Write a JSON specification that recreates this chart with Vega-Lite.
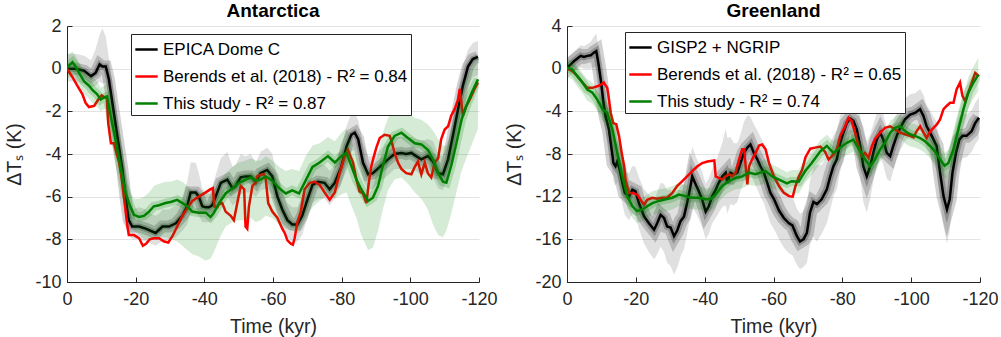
{
  "$schema": "https://vega.github.io/schema/vega-lite/v6.json",
  "padding": {"left": 4, "top": 2, "right": 0, "bottom": 2},
  "config": {
    "font": "Liberation Sans",
    "view": {"stroke": null},
    "axis": {"domainColor": "#262626", "tickColor": "#262626", "labelColor": "#262626", "titleColor": "#262626", "labelFontSize": 18, "titleFontSize": 19.5, "titleFontWeight": "normal", "gridColor": "#e3e3e3", "tickSize": -5, "domainWidth": 1},
    "title": {"fontSize": 19, "fontWeight": "bold", "color": "#000000", "offset": -4}
  },
  "datasets": {
    "aB": [
      {"t":0,"v":0,"lo":-0.6,"hi":0.7},{"t":-2.5,"v":0,"lo":-0.6,"hi":0.7},{"t":-5,"v":-0.1,"lo":-0.7,"hi":0.6},{"t":-7,"v":-0.35,"lo":-0.9,"hi":0.4},{"t":-8.3,"v":-0.2,"lo":-0.8,"hi":0.9},{"t":-9.5,"v":0.2,"lo":-0.6,"hi":1.6},{"t":-10.3,"v":0.1,"lo":-0.7,"hi":1.9},{"t":-11.3,"v":0.1,"lo":-0.7,"hi":1.5},{"t":-12.2,"v":-0.5,"lo":-1.3,"hi":0.5},{"t":-13.2,"v":-1.6,"lo":-2.5,"hi":-0.6},{"t":-14.7,"v":-3.2,"lo":-4.2,"hi":-2.2},{"t":-16.1,"v":-4.7,"lo":-5.7,"hi":-3.7},{"t":-17.1,"v":-6.1,"lo":-7.0,"hi":-5.2},{"t":-18,"v":-7.1,"lo":-7.8,"hi":-6.3},{"t":-19,"v":-7.4,"lo":-8.0,"hi":-6.6},{"t":-21,"v":-7.4,"lo":-8.0,"hi":-6.5},{"t":-22.9,"v":-7.5,"lo":-8.1,"hi":-6.6},{"t":-24.4,"v":-7.6,"lo":-8.2,"hi":-6.8},{"t":-25.8,"v":-7.7,"lo":-8.3,"hi":-6.9},{"t":-26.8,"v":-7.55,"lo":-8.2,"hi":-6.8},{"t":-27.8,"v":-7.4,"lo":-8.1,"hi":-6.6},{"t":-29.7,"v":-7.4,"lo":-8.0,"hi":-6.6},{"t":-31.7,"v":-7.25,"lo":-7.9,"hi":-6.4},{"t":-33.6,"v":-6.9,"lo":-7.6,"hi":-6.0},{"t":-35,"v":-6.45,"lo":-7.3,"hi":-5.3},{"t":-36,"v":-5.8,"lo":-6.8,"hi":-4.4},{"t":-37.5,"v":-5.8,"lo":-6.8,"hi":-4.4},{"t":-38.4,"v":-6.0,"lo":-6.9,"hi":-4.9},{"t":-39.4,"v":-6.45,"lo":-7.2,"hi":-5.6},{"t":-40.4,"v":-6.5,"lo":-7.2,"hi":-5.8},{"t":-41.4,"v":-6.5,"lo":-7.2,"hi":-5.7},{"t":-42.3,"v":-6.4,"lo":-7.1,"hi":-5.5},{"t":-43.3,"v":-6.0,"lo":-6.8,"hi":-5.0},{"t":-44.8,"v":-5.35,"lo":-6.2,"hi":-4.2},{"t":-46.7,"v":-5.2,"lo":-6.0,"hi":-3.9},{"t":-48.2,"v":-5.6,"lo":-6.4,"hi":-4.6},{"t":-49.1,"v":-5.5,"lo":-6.3,"hi":-4.5},{"t":-50.6,"v":-5.1,"lo":-5.9,"hi":-4.0},{"t":-52,"v":-5.05,"lo":-5.8,"hi":-4.1},{"t":-53.5,"v":-5.05,"lo":-5.8,"hi":-4.0},{"t":-55,"v":-5.3,"lo":-6.0,"hi":-4.4},{"t":-56.4,"v":-4.9,"lo":-5.7,"hi":-3.9},{"t":-58.3,"v":-4.75,"lo":-5.6,"hi":-3.7},{"t":-59.8,"v":-5.05,"lo":-5.9,"hi":-4.0},{"t":-61.3,"v":-6.0,"lo":-6.8,"hi":-5.1},{"t":-62.7,"v":-6.6,"lo":-7.4,"hi":-5.8},{"t":-64.2,"v":-7.1,"lo":-7.9,"hi":-6.3},{"t":-65.6,"v":-7.3,"lo":-8.1,"hi":-6.5},{"t":-67.1,"v":-7.3,"lo":-8.1,"hi":-6.5},{"t":-68.5,"v":-6.9,"lo":-7.8,"hi":-6.0},{"t":-70,"v":-6.15,"lo":-7.0,"hi":-5.3},{"t":-71.5,"v":-5.45,"lo":-6.3,"hi":-4.6},{"t":-73.1,"v":-5.3,"lo":-6.1,"hi":-4.5},{"t":-75,"v":-5.35,"lo":-6.1,"hi":-4.5},{"t":-76.5,"v":-5.65,"lo":-6.4,"hi":-4.8},{"t":-78,"v":-5.35,"lo":-6.1,"hi":-4.5},{"t":-79.9,"v":-4.6,"lo":-5.4,"hi":-3.7},{"t":-81.4,"v":-3.65,"lo":-4.5,"hi":-2.7},{"t":-82.8,"v":-3.1,"lo":-3.9,"hi":-2.1},{"t":-83.8,"v":-3.0,"lo":-3.8,"hi":-2.1},{"t":-84.8,"v":-3.3,"lo":-4.1,"hi":-2.4},{"t":-86.2,"v":-4.4,"lo":-5.2,"hi":-3.5},{"t":-87.7,"v":-4.95,"lo":-5.7,"hi":-4.1},{"t":-89.1,"v":-4.9,"lo":-5.6,"hi":-4.1},{"t":-91.1,"v":-4.6,"lo":-5.3,"hi":-3.8},{"t":-93.5,"v":-4.25,"lo":-5.0,"hi":-3.5},{"t":-95.4,"v":-4.0,"lo":-4.7,"hi":-3.2},{"t":-97.4,"v":-3.95,"lo":-4.7,"hi":-3.2},{"t":-98.8,"v":-4.0,"lo":-4.7,"hi":-3.2},{"t":-100.3,"v":-3.95,"lo":-4.7,"hi":-3.2},{"t":-101.7,"v":-4.1,"lo":-4.8,"hi":-3.3},{"t":-103.2,"v":-4.25,"lo":-5.0,"hi":-3.4},{"t":-105.1,"v":-4.1,"lo":-4.8,"hi":-3.3},{"t":-106.6,"v":-4.35,"lo":-5.1,"hi":-3.4},{"t":-108.1,"v":-4.9,"lo":-5.6,"hi":-4.0},{"t":-109.5,"v":-4.95,"lo":-5.7,"hi":-4.1},{"t":-111,"v":-4.25,"lo":-5.0,"hi":-3.4},{"t":-112.4,"v":-3.15,"lo":-4.0,"hi":-2.3},{"t":-113.9,"v":-1.9,"lo":-2.8,"hi":-1.0},{"t":-115.3,"v":-0.8,"lo":-1.7,"hi":0.1},{"t":-116.8,"v":0.1,"lo":-0.8,"hi":0.9},{"t":-118.2,"v":0.45,"lo":-0.4,"hi":1.2},{"t":-119.7,"v":0.55,"lo":-0.3,"hi":1.3}
    ],
    "aR": [
      {"t":0,"v":0},{"t":-1.6,"v":-0.4},{"t":-3,"v":-0.8},{"t":-4.5,"v":-1.2},{"t":-5.4,"v":-1.6},{"t":-6.4,"v":-1.8},{"t":-7.9,"v":-1.75},{"t":-9.1,"v":-1.45},{"t":-10.1,"v":-1.25},{"t":-11.1,"v":-1.35},{"t":-11.6,"v":-1.4},{"t":-12,"v":-2.55},{"t":-12.8,"v":-3.5},{"t":-13.7,"v":-3.5},{"t":-14.4,"v":-3.95},{"t":-15.2,"v":-4.4},{"t":-16,"v":-5.2},{"t":-16.7,"v":-6.15},{"t":-17.6,"v":-7.4},{"t":-18,"v":-7.8},{"t":-19.5,"v":-7.8},{"t":-21,"v":-7.95},{"t":-22.1,"v":-8.3},{"t":-23.1,"v":-8.2},{"t":-24.1,"v":-8.0},{"t":-25.3,"v":-7.95},{"t":-26.8,"v":-7.95},{"t":-28.3,"v":-8.1},{"t":-29.5,"v":-8.15},{"t":-30.7,"v":-7.85},{"t":-32.1,"v":-7.4},{"t":-33.6,"v":-6.9},{"t":-35,"v":-6.55},{"t":-36.5,"v":-6.2},{"t":-38.4,"v":-6.0},{"t":-40.4,"v":-5.8},{"t":-41.8,"v":-5.65},{"t":-42.5,"v":-5.6},{"t":-42.9,"v":-6.45},{"t":-43.8,"v":-6.5},{"t":-44.3,"v":-6.35},{"t":-45.2,"v":-6.3},{"t":-46.2,"v":-6.7},{"t":-47.7,"v":-6.9},{"t":-48.6,"v":-7.1},{"t":-49.6,"v":-6.3},{"t":-50.6,"v":-5.5},{"t":-51.6,"v":-5.65},{"t":-52,"v":-7.4},{"t":-52.5,"v":-7.5},{"t":-53,"v":-6.45},{"t":-54,"v":-5.5},{"t":-54.9,"v":-5.35},{"t":-55.4,"v":-5.05},{"t":-56.9,"v":-4.95},{"t":-57.4,"v":-4.95},{"t":-57.9,"v":-5.2},{"t":-58.6,"v":-6.3},{"t":-59.8,"v":-6.7},{"t":-61.3,"v":-7.0},{"t":-62.7,"v":-7.5},{"t":-63.4,"v":-7.7},{"t":-64.2,"v":-8.05},{"t":-65.2,"v":-8.2},{"t":-65.8,"v":-8.25},{"t":-66.3,"v":-7.95},{"t":-67.1,"v":-7.2},{"t":-68.1,"v":-6.7},{"t":-69.2,"v":-5.65},{"t":-70.7,"v":-5.35},{"t":-72.1,"v":-5.3},{"t":-73.6,"v":-5.45},{"t":-75,"v":-5.8},{"t":-76.5,"v":-6.15},{"t":-78,"v":-5.8},{"t":-79.4,"v":-4.9},{"t":-80.9,"v":-4.1},{"t":-81.8,"v":-3.8},{"t":-83.3,"v":-4.4},{"t":-84.3,"v":-5.2},{"t":-85.2,"v":-5.75},{"t":-86.2,"v":-5.85},{"t":-87.2,"v":-6.3},{"t":-87.9,"v":-5.35},{"t":-88.6,"v":-4.6},{"t":-89.4,"v":-4.1},{"t":-90.1,"v":-3.7},{"t":-91.1,"v":-3.25},{"t":-92.5,"v":-3.1},{"t":-94,"v":-3.15},{"t":-94.7,"v":-3.5},{"t":-95.4,"v":-3.95},{"t":-96.4,"v":-4.4},{"t":-97.4,"v":-4.7},{"t":-98.8,"v":-4.9},{"t":-100.3,"v":-4.95},{"t":-101.3,"v":-4.6},{"t":-102.2,"v":-4.35},{"t":-103.2,"v":-4.95},{"t":-104.2,"v":-4.4},{"t":-105.1,"v":-4.9},{"t":-106.1,"v":-5.1},{"t":-107.1,"v":-4.4},{"t":-108.1,"v":-4.2},{"t":-109,"v":-3.3},{"t":-110,"v":-2.85},{"t":-111,"v":-2.7},{"t":-111.9,"v":-2.2},{"t":-112.9,"v":-1.9},{"t":-113.9,"v":-1.45},{"t":-114.4,"v":-0.95},{"t":-115.3,"v":-2.2},{"t":-116.3,"v":-1.75},{"t":-117.3,"v":-1.45},{"t":-118.7,"v":-0.95},{"t":-119.7,"v":-0.65}
    ],
    "aG": [
      {"t":0,"v":0.05,"lo":-0.5,"hi":0.6},{"t":-1.6,"v":0.3,"lo":-0.3,"hi":0.8},{"t":-2.5,"v":0.1,"lo":-0.5,"hi":0.6},{"t":-3.5,"v":-0.2,"lo":-0.8,"hi":0.3},{"t":-5,"v":-0.6,"lo":-1.2,"hi":-0.1},{"t":-6.4,"v":-0.8,"lo":-1.4,"hi":-0.3},{"t":-7.4,"v":-1.0,"lo":-1.6,"hi":-0.4},{"t":-8.8,"v":-1.2,"lo":-1.8,"hi":-0.6},{"t":-9.8,"v":-1.45,"lo":-2.0,"hi":-0.9},{"t":-10.8,"v":-1.35,"lo":-1.9,"hi":-0.8},{"t":-11.7,"v":-1.3,"lo":-1.9,"hi":-0.7},{"t":-12.7,"v":-2.2,"lo":-2.8,"hi":-1.6},{"t":-13.7,"v":-3.0,"lo":-3.6,"hi":-2.4},{"t":-14.7,"v":-3.8,"lo":-4.4,"hi":-3.2},{"t":-15.6,"v":-4.6,"lo":-5.2,"hi":-4.0},{"t":-17.1,"v":-5.85,"lo":-6.5,"hi":-5.2},{"t":-18.3,"v":-6.4,"lo":-7.1,"hi":-5.7},{"t":-19.5,"v":-6.85,"lo":-7.6,"hi":-6.1},{"t":-21,"v":-6.95,"lo":-7.8,"hi":-6.1},{"t":-22.4,"v":-6.9,"lo":-8.0,"hi":-6.0},{"t":-23.9,"v":-6.7,"lo":-8.0,"hi":-5.8},{"t":-25.3,"v":-6.45,"lo":-7.9,"hi":-5.5},{"t":-26.8,"v":-6.4,"lo":-7.9,"hi":-5.4},{"t":-28.7,"v":-6.3,"lo":-7.9,"hi":-5.3},{"t":-30.2,"v":-6.25,"lo":-8.0,"hi":-5.3},{"t":-32.1,"v":-6.15,"lo":-8.1,"hi":-5.2},{"t":-33.6,"v":-6.3,"lo":-8.3,"hi":-5.3},{"t":-35,"v":-6.45,"lo":-8.5,"hi":-5.5},{"t":-36.5,"v":-6.7,"lo":-8.7,"hi":-5.7},{"t":-38.4,"v":-6.75,"lo":-8.8,"hi":-5.8},{"t":-40.4,"v":-6.75,"lo":-9.0,"hi":-5.8},{"t":-41.8,"v":-6.95,"lo":-8.9,"hi":-5.9},{"t":-42.8,"v":-6.75,"lo":-8.6,"hi":-5.7},{"t":-44.3,"v":-6.3,"lo":-8.0,"hi":-5.3},{"t":-46.2,"v":-5.85,"lo":-7.4,"hi":-4.9},{"t":-48.2,"v":-5.6,"lo":-7.2,"hi":-4.6},{"t":-50.1,"v":-5.35,"lo":-7.1,"hi":-4.4},{"t":-52.1,"v":-5.2,"lo":-7.1,"hi":-4.3},{"t":-53.5,"v":-5.1,"lo":-7.0,"hi":-4.2},{"t":-55,"v":-5.25,"lo":-7.2,"hi":-4.3},{"t":-56.4,"v":-5.2,"lo":-7.1,"hi":-4.3},{"t":-57.9,"v":-5.05,"lo":-6.9,"hi":-4.1},{"t":-59.8,"v":-5.25,"lo":-7.0,"hi":-4.3},{"t":-61.8,"v":-5.6,"lo":-7.3,"hi":-4.6},{"t":-63.7,"v":-5.85,"lo":-7.5,"hi":-4.8},{"t":-65.6,"v":-5.7,"lo":-7.6,"hi":-4.7},{"t":-67.6,"v":-5.85,"lo":-7.7,"hi":-4.8},{"t":-69.5,"v":-5.25,"lo":-7.0,"hi":-4.1},{"t":-71.5,"v":-4.6,"lo":-6.5,"hi":-3.6},{"t":-73.6,"v":-4.4,"lo":-6.2,"hi":-3.5},{"t":-76,"v":-4.1,"lo":-5.9,"hi":-3.2},{"t":-78,"v":-4.4,"lo":-6.1,"hi":-3.4},{"t":-79.9,"v":-4.1,"lo":-5.9,"hi":-3.0},{"t":-81.4,"v":-3.95,"lo":-5.8,"hi":-2.8},{"t":-82.8,"v":-4.55,"lo":-6.4,"hi":-3.4},{"t":-84.3,"v":-5.2,"lo":-7.0,"hi":-4.0},{"t":-85.7,"v":-5.65,"lo":-7.8,"hi":-4.4},{"t":-87.7,"v":-6.2,"lo":-8.5,"hi":-4.8},{"t":-89.1,"v":-6.05,"lo":-8.4,"hi":-4.6},{"t":-90.6,"v":-5.5,"lo":-7.6,"hi":-4.0},{"t":-92,"v":-4.55,"lo":-6.6,"hi":-3.0},{"t":-93.5,"v":-3.65,"lo":-5.7,"hi":-2.3},{"t":-95.4,"v":-3.15,"lo":-5.2,"hi":-2.0},{"t":-97.4,"v":-3.0,"lo":-5.1,"hi":-1.9},{"t":-99.3,"v":-3.25,"lo":-5.4,"hi":-2.1},{"t":-101.3,"v":-3.5,"lo":-5.8,"hi":-2.3},{"t":-103.2,"v":-3.55,"lo":-6.1,"hi":-2.4},{"t":-105.1,"v":-3.8,"lo":-6.6,"hi":-2.6},{"t":-106.6,"v":-4.25,"lo":-7.3,"hi":-2.9},{"t":-108.1,"v":-4.9,"lo":-7.8,"hi":-3.3},{"t":-109.5,"v":-5.3,"lo":-7.9,"hi":-3.6},{"t":-110.5,"v":-5.35,"lo":-7.6,"hi":-3.6},{"t":-111.9,"v":-4.55,"lo":-6.8,"hi":-2.9},{"t":-113.4,"v":-3.5,"lo":-5.8,"hi":-1.9},{"t":-114.9,"v":-2.4,"lo":-4.8,"hi":-0.9},{"t":-116.3,"v":-1.75,"lo":-4.2,"hi":-0.4},{"t":-117.8,"v":-1.15,"lo":-3.6,"hi":0.1},{"t":-119.7,"v":-0.5,"lo":-2.8,"hi":0.7}
    ],
    "gB": [
      {"t":0,"v":0.1,"lo":-0.9,"hi":1.0},{"t":-1.1,"v":0.4,"lo":-0.6,"hi":1.3},{"t":-2,"v":0.7,"lo":-0.3,"hi":1.6},{"t":-3,"v":0.95,"lo":-0.1,"hi":1.9},{"t":-4,"v":1.2,"lo":0.1,"hi":2.2},{"t":-4.9,"v":1.1,"lo":0.0,"hi":2.1},{"t":-5.9,"v":1.2,"lo":0.0,"hi":2.3},{"t":-6.9,"v":1.25,"lo":0.0,"hi":2.5},{"t":-7.8,"v":1.5,"lo":0.1,"hi":3.0},{"t":-8.5,"v":1.65,"lo":0.2,"hi":3.3},{"t":-9.1,"v":0.55,"lo":-1.0,"hi":2.0},{"t":-9.8,"v":-1.0,"lo":-2.6,"hi":0.5},{"t":-10.6,"v":-3.2,"lo":-4.8,"hi":-1.6},{"t":-11.2,"v":-4.45,"lo":-6.0,"hi":-2.9},{"t":-12.2,"v":-5.7,"lo":-7.3,"hi":-4.1},{"t":-13,"v":-7.6,"lo":-9.3,"hi":-5.9},{"t":-13.5,"v":-8.85,"lo":-10.6,"hi":-7.1},{"t":-14.1,"v":-9.15,"lo":-11.0,"hi":-7.3},{"t":-14.6,"v":-8.7,"lo":-10.6,"hi":-6.8},{"t":-15.3,"v":-9.45,"lo":-11.4,"hi":-7.5},{"t":-16.1,"v":-10.7,"lo":-12.7,"hi":-8.7},{"t":-16.8,"v":-11.65,"lo":-13.7,"hi":-9.6},{"t":-18,"v":-12.0,"lo":-14.2,"hi":-9.8},{"t":-19,"v":-11.35,"lo":-13.6,"hi":-9.1},{"t":-19.9,"v":-11.5,"lo":-13.8,"hi":-9.2},{"t":-20.9,"v":-12.6,"lo":-15.0,"hi":-10.2},{"t":-22.4,"v":-13.85,"lo":-16.4,"hi":-11.3},{"t":-23.8,"v":-14.5,"lo":-17.2,"hi":-11.8},{"t":-25.3,"v":-15.1,"lo":-17.9,"hi":-12.3},{"t":-26.2,"v":-14.5,"lo":-17.4,"hi":-11.6},{"t":-27.2,"v":-13.7,"lo":-16.7,"hi":-10.7},{"t":-28.2,"v":-14.0,"lo":-17.2,"hi":-10.8},{"t":-29.1,"v":-14.8,"lo":-18.2,"hi":-11.4},{"t":-30.1,"v":-14.9,"lo":-18.5,"hi":-11.3},{"t":-31.1,"v":-15.7,"lo":-19.3,"hi":-12.1},{"t":-32,"v":-15.2,"lo":-18.7,"hi":-11.7},{"t":-33,"v":-14.3,"lo":-17.6,"hi":-11.0},{"t":-34,"v":-13.85,"lo":-16.9,"hi":-10.8},{"t":-34.9,"v":-12.6,"lo":-15.5,"hi":-9.7},{"t":-35.9,"v":-11.0,"lo":-13.8,"hi":-8.2},{"t":-36.4,"v":-10.1,"lo":-12.9,"hi":-7.3},{"t":-37.4,"v":-10.85,"lo":-13.5,"hi":-8.2},{"t":-38.3,"v":-11.5,"lo":-14.1,"hi":-8.9},{"t":-39.3,"v":-12.3,"lo":-14.9,"hi":-9.7},{"t":-40.3,"v":-13.4,"lo":-16.0,"hi":-10.8},{"t":-41.2,"v":-12.9,"lo":-15.5,"hi":-10.3},{"t":-42.2,"v":-11.95,"lo":-14.5,"hi":-9.4},{"t":-43.2,"v":-11.35,"lo":-14.0,"hi":-8.7},{"t":-44.1,"v":-10.7,"lo":-13.5,"hi":-7.9},{"t":-45.1,"v":-10.1,"lo":-13.0,"hi":-7.0},{"t":-46.1,"v":-9.75,"lo":-12.8,"hi":-5.6},{"t":-46.6,"v":-10.7,"lo":-13.6,"hi":-6.5},{"t":-47.5,"v":-9.75,"lo":-12.7,"hi":-6.4},{"t":-48.5,"v":-9.9,"lo":-12.8,"hi":-7.0},{"t":-49.5,"v":-9.75,"lo":-12.5,"hi":-7.0},{"t":-50.4,"v":-8.85,"lo":-11.5,"hi":-6.2},{"t":-51.4,"v":-7.9,"lo":-10.6,"hi":-5.0},{"t":-52.4,"v":-7.4,"lo":-10.0,"hi":-4.4},{"t":-53.3,"v":-7.1,"lo":-9.8,"hi":-4.5},{"t":-54.3,"v":-7.9,"lo":-10.6,"hi":-5.2},{"t":-55.3,"v":-8.5,"lo":-11.3,"hi":-5.8},{"t":-56.2,"v":-9.15,"lo":-12.0,"hi":-6.4},{"t":-57.2,"v":-9.75,"lo":-12.6,"hi":-7.0},{"t":-58.2,"v":-10.7,"lo":-13.6,"hi":-7.9},{"t":-59.1,"v":-11.65,"lo":-14.5,"hi":-8.9},{"t":-60.1,"v":-12.2,"lo":-15.0,"hi":-9.5},{"t":-61.6,"v":-13.3,"lo":-16.0,"hi":-10.7},{"t":-63,"v":-14.0,"lo":-16.8,"hi":-11.3},{"t":-64.5,"v":-14.5,"lo":-17.3,"hi":-11.8},{"t":-65.5,"v":-14.7,"lo":-17.5,"hi":-12.0},{"t":-66.8,"v":-15.7,"lo":-18.4,"hi":-13.1},{"t":-67.7,"v":-16.2,"lo":-18.8,"hi":-13.6},{"t":-68.7,"v":-16.0,"lo":-18.6,"hi":-13.4},{"t":-69.7,"v":-15.4,"lo":-18.2,"hi":-12.7},{"t":-70.6,"v":-13.5,"lo":-16.5,"hi":-10.5},{"t":-71.6,"v":-12.5,"lo":-15.8,"hi":-9.3},{"t":-72.6,"v":-12.7,"lo":-16.2,"hi":-9.0},{"t":-74,"v":-12.25,"lo":-15.5,"hi":-9.0},{"t":-75.5,"v":-11.3,"lo":-14.5,"hi":-8.2},{"t":-76.5,"v":-10.1,"lo":-13.2,"hi":-7.0},{"t":-77.4,"v":-9.15,"lo":-12.0,"hi":-6.3},{"t":-78.4,"v":-8.5,"lo":-11.3,"hi":-5.7},{"t":-79.4,"v":-6.95,"lo":-9.6,"hi":-4.4},{"t":-80.3,"v":-6.0,"lo":-8.5,"hi":-3.6},{"t":-81.3,"v":-5.1,"lo":-7.5,"hi":-2.8},{"t":-82.3,"v":-4.7,"lo":-7.0,"hi":-2.5},{"t":-83.2,"v":-4.9,"lo":-7.2,"hi":-2.7},{"t":-84.2,"v":-5.7,"lo":-8.2,"hi":-3.3},{"t":-85.2,"v":-7.25,"lo":-10.2,"hi":-4.4},{"t":-86.1,"v":-9.15,"lo":-12.5,"hi":-5.9},{"t":-87.1,"v":-10.1,"lo":-13.5,"hi":-6.8},{"t":-88.1,"v":-9.15,"lo":-12.2,"hi":-6.2},{"t":-89,"v":-7.9,"lo":-10.6,"hi":-5.2},{"t":-90,"v":-6.65,"lo":-9.0,"hi":-4.2},{"t":-91,"v":-6.0,"lo":-8.3,"hi":-3.7},{"t":-91.9,"v":-6.65,"lo":-9.0,"hi":-4.3},{"t":-92.9,"v":-7.9,"lo":-10.3,"hi":-5.5},{"t":-93.9,"v":-8.2,"lo":-10.6,"hi":-5.9},{"t":-94.8,"v":-7.25,"lo":-9.6,"hi":-5.0},{"t":-95.8,"v":-6.3,"lo":-8.5,"hi":-4.1},{"t":-96.8,"v":-5.55,"lo":-7.7,"hi":-3.5},{"t":-98.2,"v":-4.75,"lo":-6.8,"hi":-2.8},{"t":-99.7,"v":-4.3,"lo":-6.3,"hi":-2.4},{"t":-101.1,"v":-4.15,"lo":-6.1,"hi":-2.3},{"t":-102.6,"v":-3.8,"lo":-5.8,"hi":-1.9},{"t":-103.6,"v":-4.45,"lo":-6.5,"hi":-2.5},{"t":-104.5,"v":-5.4,"lo":-7.5,"hi":-3.4},{"t":-105.5,"v":-6.0,"lo":-8.2,"hi":-3.9},{"t":-106.5,"v":-6.65,"lo":-8.9,"hi":-4.5},{"t":-107.4,"v":-7.25,"lo":-9.6,"hi":-5.0},{"t":-108.4,"v":-9.75,"lo":-12.4,"hi":-7.2},{"t":-109.4,"v":-11.95,"lo":-14.8,"hi":-9.2},{"t":-110.4,"v":-13.2,"lo":-16.4,"hi":-10.3},{"t":-111.2,"v":-12.25,"lo":-15.2,"hi":-9.4},{"t":-112,"v":-9.75,"lo":-12.5,"hi":-7.1},{"t":-113,"v":-7.9,"lo":-10.3,"hi":-5.6},{"t":-114,"v":-6.65,"lo":-8.9,"hi":-4.5},{"t":-114.9,"v":-6.3,"lo":-8.4,"hi":-4.2},{"t":-116.1,"v":-6.3,"lo":-8.3,"hi":-4.3},{"t":-117.6,"v":-5.85,"lo":-7.8,"hi":-3.9},{"t":-118.6,"v":-5.1,"lo":-7.1,"hi":-3.2},{"t":-119.7,"v":-4.6,"lo":-6.6,"hi":-2.7}
    ],
    "gR": [
      {"t":0,"v":0},{"t":-1.5,"v":-0.2},{"t":-3,"v":-0.7},{"t":-4.5,"v":-1.3},{"t":-5.9,"v":-1.8},{"t":-7.4,"v":-1.8},{"t":-8.8,"v":-1.65},{"t":-9.8,"v":-1.5},{"t":-10.7,"v":-1.3},{"t":-11.7,"v":-1.8},{"t":-12.2,"v":-2.9},{"t":-12.7,"v":-4.15},{"t":-13.4,"v":-5.1},{"t":-14.3,"v":-5.2},{"t":-15.1,"v":-6.3},{"t":-15.9,"v":-7.9},{"t":-16.6,"v":-9.15},{"t":-17,"v":-10.4},{"t":-18,"v":-11.65},{"t":-19,"v":-11.65},{"t":-20.4,"v":-11.8},{"t":-21.4,"v":-12.3},{"t":-22.4,"v":-12.75},{"t":-23.3,"v":-12.3},{"t":-24.8,"v":-12.1},{"t":-26.2,"v":-12.2},{"t":-27.7,"v":-12.1},{"t":-29.1,"v":-12.1},{"t":-30.6,"v":-11.65},{"t":-32,"v":-11.0},{"t":-33.5,"v":-10.55},{"t":-34.9,"v":-10.1},{"t":-36.4,"v":-9.6},{"t":-37.9,"v":-9.15},{"t":-39.3,"v":-8.85},{"t":-40.8,"v":-8.7},{"t":-42.8,"v":-8.6},{"t":-43.2,"v":-10.1},{"t":-44.1,"v":-10.25},{"t":-45.1,"v":-10.4},{"t":-46.1,"v":-10.1},{"t":-47,"v":-9.9},{"t":-48,"v":-10.1},{"t":-49,"v":-9.75},{"t":-50,"v":-8.5},{"t":-50.9,"v":-7.55},{"t":-51.5,"v":-7.55},{"t":-51.9,"v":-9.15},{"t":-52.4,"v":-10.85},{"t":-52.9,"v":-9.15},{"t":-53.8,"v":-8.5},{"t":-54.8,"v":-7.9},{"t":-55.8,"v":-7.2},{"t":-56.7,"v":-7.1},{"t":-57.7,"v":-7.55},{"t":-58.7,"v":-8.85},{"t":-60.1,"v":-10.1},{"t":-61.6,"v":-11.0},{"t":-63,"v":-11.65},{"t":-64.5,"v":-11.95},{"t":-65.6,"v":-12.0},{"t":-66.3,"v":-11.1},{"t":-67.3,"v":-10.15},{"t":-68.3,"v":-9.5},{"t":-69.3,"v":-8.3},{"t":-70.7,"v":-7.5},{"t":-72.1,"v":-7.4},{"t":-73.6,"v":-7.3},{"t":-75,"v":-7.8},{"t":-76,"v":-8.5},{"t":-77,"v":-8.2},{"t":-78.4,"v":-7.6},{"t":-79.4,"v":-6.3},{"t":-80.8,"v":-5.4},{"t":-81.8,"v":-4.6},{"t":-82.7,"v":-4.9},{"t":-83.7,"v":-6.0},{"t":-84.7,"v":-7.25},{"t":-85.7,"v":-8.2},{"t":-86.6,"v":-7.9},{"t":-87.6,"v":-8.35},{"t":-88.6,"v":-7.25},{"t":-89.5,"v":-6.6},{"t":-91,"v":-6.0},{"t":-92.4,"v":-5.55},{"t":-93.9,"v":-5.4},{"t":-95.3,"v":-5.7},{"t":-96.8,"v":-6.0},{"t":-98.2,"v":-6.15},{"t":-99.7,"v":-6.3},{"t":-100.7,"v":-6.45},{"t":-101.6,"v":-5.85},{"t":-102.6,"v":-5.4},{"t":-103.6,"v":-6.0},{"t":-104.5,"v":-6.5},{"t":-105.5,"v":-5.9},{"t":-106.5,"v":-5.55},{"t":-107.4,"v":-5.25},{"t":-108.4,"v":-4.75},{"t":-109.4,"v":-3.8},{"t":-110.3,"v":-3.5},{"t":-111.3,"v":-3.2},{"t":-112.3,"v":-3.2},{"t":-113.2,"v":-1.95},{"t":-114.2,"v":-1.3},{"t":-114.9,"v":-2.55},{"t":-115.7,"v":-3.05},{"t":-116.6,"v":-2.25},{"t":-117.6,"v":-1.3},{"t":-118.6,"v":-0.4},{"t":-119.7,"v":-0.7}
    ],
    "gG": [
      {"t":0,"v":0.1,"lo":-0.8,"hi":0.9},{"t":-1.5,"v":-0.05,"lo":-1.0,"hi":0.8},{"t":-3,"v":-0.7,"lo":-1.7,"hi":0.2},{"t":-4.5,"v":-1.3,"lo":-2.3,"hi":-0.4},{"t":-5.9,"v":-1.95,"lo":-3.0,"hi":-1.0},{"t":-7.4,"v":-2.25,"lo":-3.3,"hi":-1.3},{"t":-8.8,"v":-2.9,"lo":-4.0,"hi":-1.9},{"t":-10.3,"v":-3.8,"lo":-4.9,"hi":-2.8},{"t":-11.7,"v":-4.15,"lo":-5.2,"hi":-3.1},{"t":-13.2,"v":-5.7,"lo":-6.8,"hi":-4.7},{"t":-14.6,"v":-7.9,"lo":-9.0,"hi":-6.9},{"t":-16.1,"v":-10.1,"lo":-11.2,"hi":-9.1},{"t":-17.5,"v":-11.95,"lo":-13.0,"hi":-10.9},{"t":-19,"v":-12.9,"lo":-14.0,"hi":-11.9},{"t":-20.4,"v":-13.35,"lo":-14.5,"hi":-12.3},{"t":-21.9,"v":-13.2,"lo":-14.3,"hi":-12.1},{"t":-23.3,"v":-12.9,"lo":-14.0,"hi":-11.8},{"t":-24.8,"v":-12.6,"lo":-13.7,"hi":-11.5},{"t":-26.7,"v":-12.4,"lo":-13.5,"hi":-11.3},{"t":-28.7,"v":-12.25,"lo":-13.4,"hi":-11.2},{"t":-30.6,"v":-12.1,"lo":-13.2,"hi":-11.0},{"t":-32.5,"v":-11.8,"lo":-12.9,"hi":-10.7},{"t":-34.5,"v":-11.95,"lo":-13.0,"hi":-10.9},{"t":-36.4,"v":-12.1,"lo":-13.2,"hi":-11.0},{"t":-38.3,"v":-12.1,"lo":-13.2,"hi":-11.0},{"t":-40.3,"v":-12.25,"lo":-13.4,"hi":-11.2},{"t":-41.7,"v":-12.25,"lo":-13.4,"hi":-11.2},{"t":-43.2,"v":-11.8,"lo":-12.9,"hi":-10.7},{"t":-45.1,"v":-11.0,"lo":-12.1,"hi":-9.9},{"t":-47,"v":-10.55,"lo":-11.6,"hi":-9.5},{"t":-49,"v":-10.25,"lo":-11.3,"hi":-9.2},{"t":-50.9,"v":-10.1,"lo":-11.2,"hi":-9.0},{"t":-52.9,"v":-9.75,"lo":-10.9,"hi":-8.7},{"t":-54.8,"v":-9.9,"lo":-11.0,"hi":-8.8},{"t":-56.2,"v":-9.75,"lo":-10.9,"hi":-8.7},{"t":-57.7,"v":-9.6,"lo":-10.7,"hi":-8.5},{"t":-59.6,"v":-10.1,"lo":-11.2,"hi":-9.0},{"t":-61.6,"v":-10.4,"lo":-11.5,"hi":-9.3},{"t":-63.9,"v":-10.75,"lo":-11.9,"hi":-9.7},{"t":-65.3,"v":-10.55,"lo":-11.7,"hi":-9.5},{"t":-67.3,"v":-10.6,"lo":-11.7,"hi":-9.5},{"t":-69.2,"v":-9.6,"lo":-10.7,"hi":-8.5},{"t":-71.1,"v":-8.85,"lo":-10.0,"hi":-7.8},{"t":-73.6,"v":-7.75,"lo":-8.9,"hi":-6.7},{"t":-75.5,"v":-7.25,"lo":-8.4,"hi":-6.2},{"t":-77.4,"v":-7.9,"lo":-9.0,"hi":-6.8},{"t":-79.4,"v":-7.4,"lo":-8.5,"hi":-6.3},{"t":-81.3,"v":-6.95,"lo":-8.1,"hi":-5.9},{"t":-83.2,"v":-6.65,"lo":-7.8,"hi":-5.6},{"t":-85.2,"v":-7.75,"lo":-8.9,"hi":-6.7},{"t":-86.6,"v":-8.5,"lo":-9.6,"hi":-7.4},{"t":-88.1,"v":-9.15,"lo":-10.3,"hi":-8.1},{"t":-89.5,"v":-8.5,"lo":-9.6,"hi":-7.4},{"t":-91,"v":-7.55,"lo":-8.7,"hi":-6.5},{"t":-92.4,"v":-6.95,"lo":-8.1,"hi":-5.9},{"t":-93.9,"v":-6.0,"lo":-7.1,"hi":-4.9},{"t":-95.3,"v":-5.55,"lo":-6.7,"hi":-4.5},{"t":-96.8,"v":-5.4,"lo":-6.5,"hi":-4.3},{"t":-98.2,"v":-5.85,"lo":-7.0,"hi":-4.8},{"t":-99.7,"v":-6.15,"lo":-7.3,"hi":-5.1},{"t":-101.1,"v":-6.3,"lo":-7.4,"hi":-5.2},{"t":-102.6,"v":-6.5,"lo":-7.6,"hi":-5.4},{"t":-104,"v":-6.8,"lo":-7.9,"hi":-5.7},{"t":-105.5,"v":-7.25,"lo":-8.4,"hi":-6.2},{"t":-106.9,"v":-7.75,"lo":-8.9,"hi":-6.6},{"t":-108.4,"v":-8.5,"lo":-9.7,"hi":-7.3},{"t":-109.7,"v":-9.1,"lo":-10.3,"hi":-7.9},{"t":-110.8,"v":-8.85,"lo":-10.1,"hi":-7.6},{"t":-112.3,"v":-7.55,"lo":-8.9,"hi":-6.2},{"t":-113.7,"v":-5.7,"lo":-7.1,"hi":-4.3},{"t":-115.2,"v":-3.8,"lo":-5.2,"hi":-2.4},{"t":-116.6,"v":-2.25,"lo":-3.7,"hi":-0.8},{"t":-118.1,"v":-1.3,"lo":-2.8,"hi":0.2},{"t":-119.5,"v":-0.55,"lo":-2.1,"hi":1.0}
    ]
  },
  "hconcat": [
    {
      "width": 412, "height": 256,
      "title": {"text": "Antarctica"},
      "layer": [
        {"data": {"name": "aB"}, "mark": {"type": "area", "color": "#000000", "opacity": 0.12, "clip": true},
         "encoding": {
           "x": {"field": "t", "type": "quantitative", "scale": {"domain": [-120, 0], "reverse": true, "nice": false, "zero": false},
                 "axis": {"title": "Time (kyr)", "values": [0, -20, -40, -60, -80, -100, -120], "labelExpr": "datum.value == 0 ? '0' : '-' + abs(datum.value)", "labelFlush": false, "grid": false, "labelPadding": 13, "titlePadding": 9}},
           "y": {"field": "lo", "type": "quantitative", "scale": {"domain": [-10, 2], "nice": false, "zero": false},
                 "axis": {"title": "ΔTₛ (K)", "values": [2, 0, -2, -4, -6, -8, -10], "labelExpr": "datum.value < 0 ? '-' + abs(datum.value) : '' + datum.value", "grid": true, "labelPadding": 11, "titlePadding": 10}},
           "y2": {"field": "hi"}}},
        {"data": {"name": "aB"}, "mark": {"type": "line", "color": "#000000", "opacity": 0.18, "strokeWidth": 12, "clip": true},
         "encoding": {"x": {"field": "t", "type": "quantitative"}, "y": {"field": "v", "type": "quantitative"}}},
        {"data": {"name": "aB"}, "mark": {"type": "line", "color": "#000000", "opacity": 0.22, "strokeWidth": 6, "clip": true},
         "encoding": {"x": {"field": "t", "type": "quantitative"}, "y": {"field": "v", "type": "quantitative"}}},
        {"data": {"name": "aB"}, "mark": {"type": "line", "strokeWidth": 2.5, "clip": true},
         "encoding": {"x": {"field": "t", "type": "quantitative"}, "y": {"field": "v", "type": "quantitative"},
           "color": {"datum": "EPICA Dome C", "type": "nominal",
             "scale": {"domain": ["EPICA Dome C", "Berends et al. (2018) - R² = 0.84", "This study - R² = 0.87"], "range": ["#000000", "#ff0000", "#008000"]},
             "legend": {"orient": "none", "legendX": 64, "legendY": 8, "title": null, "fillColor": "#ffffff", "strokeColor": "#262626", "padding": 3, "symbolType": "stroke", "symbolSize": 500, "symbolStrokeWidth": 2.5, "labelFontSize": 17, "labelColor": "#000000", "rowPadding": 6, "labelOffset": 4, "labelLimit": 400}}}},
        {"data": {"name": "aR"}, "mark": {"type": "line", "strokeWidth": 2.5, "clip": true},
         "encoding": {"x": {"field": "t", "type": "quantitative"}, "y": {"field": "v", "type": "quantitative"},
           "color": {"datum": "Berends et al. (2018) - R² = 0.84", "type": "nominal"}}},
        {"data": {"name": "aG"}, "mark": {"type": "area", "color": "#008000", "opacity": 0.16, "clip": true},
         "encoding": {"x": {"field": "t", "type": "quantitative"}, "y": {"field": "lo", "type": "quantitative"}, "y2": {"field": "hi"}}},
        {"data": {"name": "aG"}, "mark": {"type": "line", "color": "#008000", "opacity": 0.2, "strokeWidth": 9, "clip": true},
         "encoding": {"x": {"field": "t", "type": "quantitative"}, "y": {"field": "v", "type": "quantitative"}}},
        {"data": {"name": "aG"}, "mark": {"type": "line", "strokeWidth": 2.5, "clip": true},
         "encoding": {"x": {"field": "t", "type": "quantitative"}, "y": {"field": "v", "type": "quantitative"},
           "color": {"datum": "This study - R² = 0.87", "type": "nominal"}}}
      ]
    },
    {
      "width": 413, "height": 256,
      "title": {"text": "Greenland"},
      "layer": [
        {"data": {"name": "gB"}, "mark": {"type": "area", "color": "#000000", "opacity": 0.12, "clip": true},
         "encoding": {
           "x": {"field": "t", "type": "quantitative", "scale": {"domain": [-120, 0], "reverse": true, "nice": false, "zero": false},
                 "axis": {"title": "Time (kyr)", "values": [0, -20, -40, -60, -80, -100, -120], "labelExpr": "datum.value == 0 ? '0' : '-' + abs(datum.value)", "labelFlush": false, "grid": false, "labelPadding": 13, "titlePadding": 9}},
           "y": {"field": "lo", "type": "quantitative", "scale": {"domain": [-20, 4], "nice": false, "zero": false},
                 "axis": {"title": "ΔTₛ (K)", "values": [4, 0, -4, -8, -12, -16, -20], "labelExpr": "datum.value < 0 ? '-' + abs(datum.value) : '' + datum.value", "grid": true, "labelPadding": 11, "titlePadding": 10}},
           "y2": {"field": "hi"}}},
        {"data": {"name": "gB"}, "mark": {"type": "line", "color": "#000000", "opacity": 0.18, "strokeWidth": 14, "clip": true},
         "encoding": {"x": {"field": "t", "type": "quantitative"}, "y": {"field": "v", "type": "quantitative"}}},
        {"data": {"name": "gB"}, "mark": {"type": "line", "color": "#000000", "opacity": 0.22, "strokeWidth": 7, "clip": true},
         "encoding": {"x": {"field": "t", "type": "quantitative"}, "y": {"field": "v", "type": "quantitative"}}},
        {"data": {"name": "gB"}, "mark": {"type": "line", "strokeWidth": 2.5, "clip": true},
         "encoding": {"x": {"field": "t", "type": "quantitative"}, "y": {"field": "v", "type": "quantitative"},
           "color": {"datum": "GISP2 + NGRIP", "type": "nominal",
             "scale": {"domain": ["GISP2 + NGRIP", "Berends et al. (2018) - R² = 0.65", "This study - R² = 0.74"], "range": ["#000000", "#ff0000", "#008000"]},
             "legend": {"orient": "none", "legendX": 58, "legendY": 6, "title": null, "fillColor": "#ffffff", "strokeColor": "#262626", "padding": 3, "symbolType": "stroke", "symbolSize": 500, "symbolStrokeWidth": 2.5, "labelFontSize": 17, "labelColor": "#000000", "rowPadding": 6, "labelOffset": 4, "labelLimit": 400}}}},
        {"data": {"name": "gR"}, "mark": {"type": "line", "strokeWidth": 2.5, "clip": true},
         "encoding": {"x": {"field": "t", "type": "quantitative"}, "y": {"field": "v", "type": "quantitative"},
           "color": {"datum": "Berends et al. (2018) - R² = 0.65", "type": "nominal"}}},
        {"data": {"name": "gG"}, "mark": {"type": "area", "color": "#008000", "opacity": 0.16, "clip": true},
         "encoding": {"x": {"field": "t", "type": "quantitative"}, "y": {"field": "lo", "type": "quantitative"}, "y2": {"field": "hi"}}},
        {"data": {"name": "gG"}, "mark": {"type": "line", "color": "#008000", "opacity": 0.2, "strokeWidth": 9, "clip": true},
         "encoding": {"x": {"field": "t", "type": "quantitative"}, "y": {"field": "v", "type": "quantitative"}}},
        {"data": {"name": "gG"}, "mark": {"type": "line", "strokeWidth": 2.5, "clip": true},
         "encoding": {"x": {"field": "t", "type": "quantitative"}, "y": {"field": "v", "type": "quantitative"},
           "color": {"datum": "This study - R² = 0.74", "type": "nominal"}}}
      ]
    }
  ],
  "spacing": 88,
  "bounds": "flush",
  "resolve": {"scale": {"color": "independent"}, "legend": {"color": "independent"}}
}
